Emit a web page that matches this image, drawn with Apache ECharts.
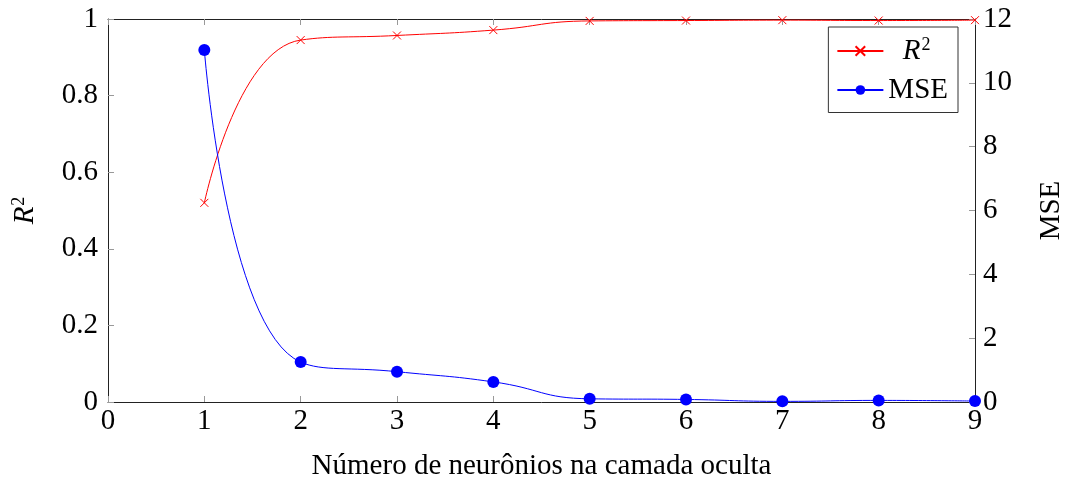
<!DOCTYPE html>
<html><head><meta charset="utf-8">
<script src="https://cdn.jsdelivr.net/npm/echarts@6/dist/echarts.min.js"></script>
<style>html,body{margin:0;padding:0;background:#fff}#c{width:1065px;height:484px}</style>
</head><body><div id="c"></div>
<script>
const neurons = [1,2,3,4,5,6,7,8,9];
const r2Values = [0.52,0.945,0.957,0.971,0.995,0.996,0.997,0.996,0.997];
const mseValues = [11.03,1.25,0.95,0.63,0.1,0.08,0.02,0.05,0.03];
const xTicks = [0,1,2,3,4,5,6,7,8,9];

const FONT = 'Liberation Serif';
const FS = 29;
const chart = echarts.init(document.getElementById('c'));
const crossPath = 'path://M0,0L10,10M10,0L0,10';
const rich = {
  i:{fontFamily:FONT,fontStyle:'italic',fontSize:FS,color:'#000'},
  s:{fontFamily:FONT,fontSize:18,color:'#000',verticalAlign:'top',padding:[0,0,12,1]}
};
const tick = {show:true,inside:true,length:6,lineStyle:{color:'#999',width:1}};
const line = {show:true,onZero:false,lineStyle:{color:'#222',width:1}};
chart.setOption({
  animation:false,
  grid:{left:108,right:90,top:19,bottom:82,containLabel:false,outerBoundsMode:'none'},
  legend:{
    right:107,top:27,orient:'vertical',
    backgroundColor:'#fff',borderColor:'#333',borderWidth:1,borderRadius:0,
    padding:[9,10,8,8],itemGap:10,itemWidth:46,itemHeight:12,
    textStyle:{fontFamily:FONT,fontSize:FS,color:'#000',rich:rich},
    formatter:n=> n==='R2' ? '  {i|R}{s|2}' : 'MSE'
  },
  xAxis:[{
    type:'value',min:0,max:9,interval:1,
    name:'Número de neurônios na camada oculta',nameLocation:'middle',nameGap:50,
    nameTextStyle:{fontFamily:FONT,fontSize:FS,color:'#000'},
    axisLine:line,axisTick:tick,
    axisLabel:{fontFamily:FONT,fontSize:FS,color:'#000',margin:5,formatter:v=>xTicks.includes(v)?String(v):''},
    splitLine:{show:false}
  },{
    type:'value',min:0,max:9,interval:1,position:'top',
    axisLine:line,axisTick:tick,
    axisLabel:{show:false},splitLine:{show:false}
  }],
  yAxis:[{
    type:'value',min:0,max:1,interval:0.2,position:'left',
    name:'{i|R}{s|2}',nameLocation:'middle',nameGap:68,nameRotate:90,
    nameTextStyle:{rich:rich},
    axisLine:line,axisTick:tick,
    axisLabel:{fontFamily:FONT,fontSize:FS,color:'#000',margin:10,formatter:v=>v===0||v===1?String(v):String(+v.toFixed(1))},
    splitLine:{show:false}
  },{
    type:'value',min:0,max:12,interval:2,position:'right',
    name:'MSE',nameLocation:'middle',nameGap:62,nameRotate:90,
    nameTextStyle:{fontFamily:FONT,fontSize:FS,color:'#000'},
    axisLine:line,axisTick:tick,
    axisLabel:{fontFamily:FONT,fontSize:FS,color:'#000',margin:8},
    splitLine:{show:false}
  }],
  series:[{
    name:'R2',type:'line',xAxisIndex:0,yAxisIndex:0,smooth:0.5,
    data:neurons.map((x,i)=>[x,r2Values[i]]),
    symbol:crossPath,symbolSize:8,
    lineStyle:{color:'#ff0000',width:1},
    itemStyle:{color:'#ff0000',borderColor:'#ff0000',borderWidth:1},
    z:3
  },{
    name:'MSE',type:'line',xAxisIndex:0,yAxisIndex:1,smooth:0.5,
    data:neurons.map((x,i)=>[x,mseValues[i]]),
    symbol:'circle',symbolSize:12,
    lineStyle:{color:'#0000ff',width:1},
    itemStyle:{color:'#0000ff'},
    z:4
  }]
});
</script></body></html>
